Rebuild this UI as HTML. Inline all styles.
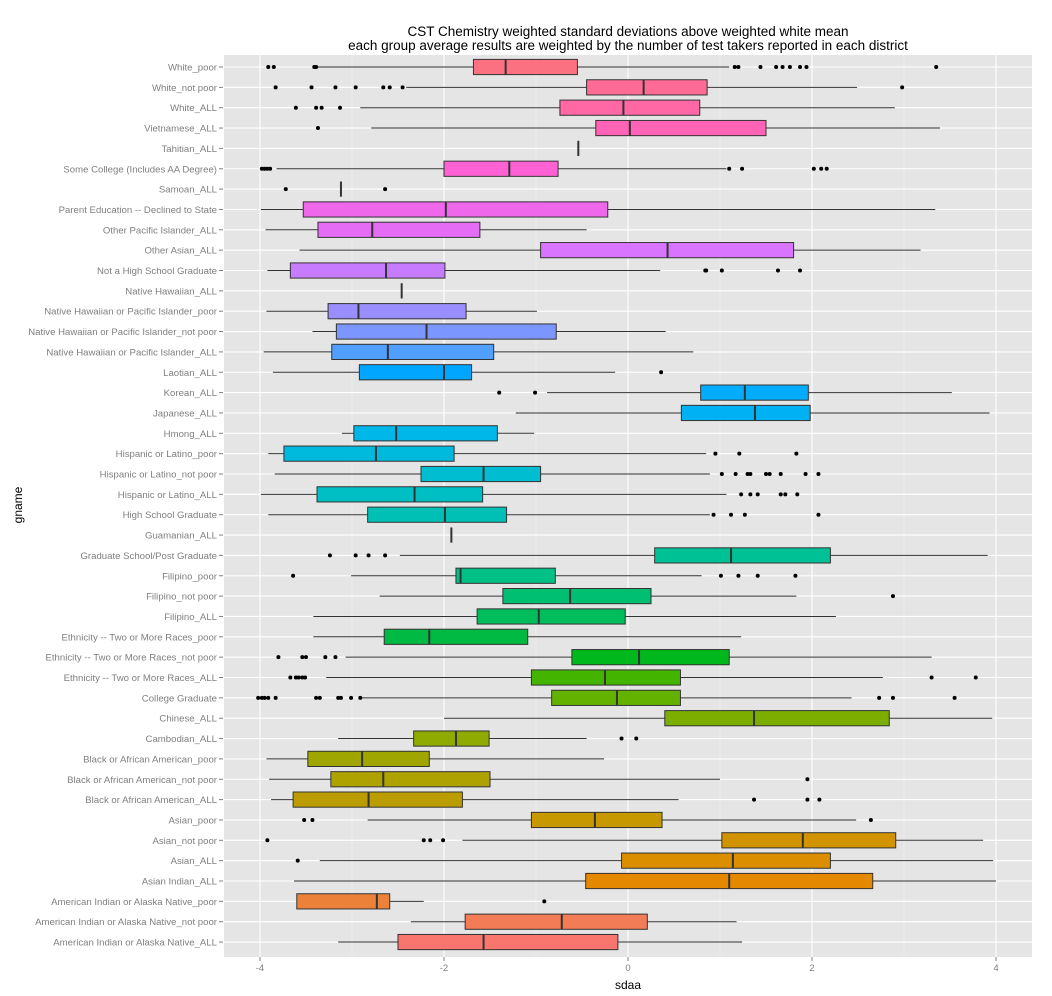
<!DOCTYPE html>
<html><head><meta charset="utf-8"><style>
html,body{margin:0;padding:0;background:#fff;}
svg{display:block;font-family:"Liberation Sans",sans-serif;}
</style></head><body>
<svg id="chart" width="1052" height="996" viewBox="0 0 1052 996" xmlns="http://www.w3.org/2000/svg">
<text x="628" y="36" text-anchor="middle" font-size="13.5" fill="#000">CST Chemistry weighted standard deviations above weighted white mean</text>
<text x="628" y="50" text-anchor="middle" font-size="13.5" fill="#000">each group average results are weighted by the number of test takers reported in each district</text>
<rect x="224" y="55" width="808" height="902" fill="#e5e5e5"/>
<g id="grid"></g><g id="marks"></g><g id="axes"></g>
<text x="628" y="989" text-anchor="middle" font-size="12" fill="#000">sdaa</text>
<text transform="translate(22,505) rotate(-90)" text-anchor="middle" font-size="12" fill="#000">gname</text>
</svg>
<script>
const categories = ["White_poor","White_not poor","White_ALL","Vietnamese_ALL","Tahitian_ALL","Some College (Includes AA Degree)","Samoan_ALL","Parent Education -- Declined to State","Other Pacific Islander_ALL","Other Asian_ALL","Not a High School Graduate","Native Hawaiian_ALL","Native Hawaiian or Pacific Islander_poor","Native Hawaiian or Pacific Islander_not poor","Native Hawaiian or Pacific Islander_ALL","Laotian_ALL","Korean_ALL","Japanese_ALL","Hmong_ALL","Hispanic or Latino_poor","Hispanic or Latino_not poor","Hispanic or Latino_ALL","High School Graduate","Guamanian_ALL","Graduate School/Post Graduate","Filipino_poor","Filipino_not poor","Filipino_ALL","Ethnicity -- Two or More Races_poor","Ethnicity -- Two or More Races_not poor","Ethnicity -- Two or More Races_ALL","College Graduate","Chinese_ALL","Cambodian_ALL","Black or African American_poor","Black or African American_not poor","Black or African American_ALL","Asian_poor","Asian_not poor","Asian_ALL","Asian Indian_ALL","American Indian or Alaska Native_poor","American Indian or Alaska Native_not poor","American Indian or Alaska Native_ALL"];
const whiskerLow = [-3.39,-2.41,-2.91,-2.79,-0.54,-3.82,-3.12,-3.99,-3.94,-3.57,-3.92,-2.46,-3.93,-3.43,-3.96,-3.86,-0.88,-1.22,-3.11,-3.91,-3.84,-3.99,-3.91,-1.92,-2.48,-3.01,-2.70,-3.42,-3.42,-3.07,-3.28,-2.89,-2.00,-3.15,-3.93,-3.90,-3.88,-2.83,-1.80,-3.35,-3.63,-3.60,-2.36,-3.15];
const q1 = [-1.68,-0.45,-0.74,-0.35,-0.54,-2.00,-3.12,-3.53,-3.37,-0.95,-3.67,-2.46,-3.26,-3.17,-3.22,-2.92,0.79,0.58,-2.98,-3.74,-2.25,-3.38,-2.83,-1.92,0.29,-1.87,-1.36,-1.64,-2.65,-0.61,-1.05,-0.83,0.40,-2.33,-3.48,-3.23,-3.64,-1.05,1.02,-0.07,-0.46,-3.60,-1.77,-2.50];
const median = [-1.33,0.17,-0.05,0.02,-0.54,-1.29,-3.12,-1.98,-2.78,0.43,-2.63,-2.46,-2.93,-2.19,-2.61,-2.00,1.27,1.38,-2.52,-2.74,-1.57,-2.32,-1.99,-1.92,1.12,-1.82,-0.63,-0.97,-2.16,0.12,-0.25,-0.12,1.37,-1.87,-2.89,-2.66,-2.82,-0.36,1.90,1.14,1.10,-2.73,-0.72,-1.57];
const q3 = [-0.55,0.86,0.78,1.50,-0.54,-0.76,-3.12,-0.22,-1.61,1.80,-1.99,-2.46,-1.76,-0.78,-1.46,-1.70,1.96,1.98,-1.42,-1.89,-0.95,-1.58,-1.32,-1.92,2.20,-0.79,0.25,-0.03,-1.09,1.10,0.57,0.57,2.84,-1.51,-2.16,-1.50,-1.80,0.37,2.91,2.20,2.66,-2.59,0.21,-0.11];
const whiskerHigh = [1.10,2.49,2.90,3.39,-0.54,1.07,-3.12,3.34,-0.45,3.18,0.35,-2.46,-0.99,0.41,0.71,-0.14,3.52,3.93,-1.02,0.85,0.89,1.07,0.89,-1.92,3.91,0.80,1.83,2.26,1.23,3.30,2.77,2.43,3.96,-0.45,-0.26,1.00,0.55,2.48,3.86,3.97,4.00,-2.22,1.18,1.24];
const outliers = [
[-3.91,-3.85,-3.41,-3.39,1.16,1.20,1.44,1.61,1.68,1.76,1.87,1.94,3.35],
[-3.83,-3.44,-3.18,-2.96,-2.66,-2.59,-2.45,2.98],
[-3.61,-3.39,-3.33,-3.13],
[-3.37],
[],
[-3.98,-3.95,-3.92,-3.89,1.10,1.24,2.02,2.10,2.16],
[-3.72,-2.64],
[],[],[],
[0.84,0.85,1.02,1.63,1.87],
[],[],[],[],
[0.36],
[-1.40,-1.01],
[],[],
[0.95,1.21,1.83],
[1.02,1.17,1.30,1.33,1.50,1.54,1.66,1.93,2.07],
[1.23,1.33,1.41,1.66,1.71,1.84],
[0.93,1.12,1.27,2.07],
[],
[-3.24,-2.96,-2.82,-2.64],
[-3.64,1.01,1.20,1.41,1.82],
[2.88],
[],[],
[-3.80,-3.54,-3.50,-3.29,-3.18],
[-3.67,-3.61,-3.58,-3.54,-3.51,3.30,3.78],
[-4.02,-3.98,-3.95,-3.91,-3.83,-3.39,-3.35,-3.15,-3.12,-3.01,-2.91,2.73,2.88,3.55],
[],
[-0.07,0.09],
[],
[1.95],
[1.37,1.95,2.08],
[-3.52,-3.43,2.64],
[-3.92,-2.22,-2.15,-2.01],
[-3.59],
[],
[-0.91],
[],[]
];
const xTicks = [-4,-2,0,2,4];
const xTickLabels = ["-4","-2","0","2","4"];
const xMinor = [-3,-1,1,3];

const NS="http://www.w3.org/2000/svg";
function x(v){return 628+92*v;}
function y(i){return 67+20.35*i;}
function mk(tag,attrs,parent){const e=document.createElementNS(NS,tag);for(const k in attrs)e.setAttribute(k,attrs[k]);parent.appendChild(e);return e;}
function hcl2hex(h,c,l){
  const hr=h*Math.PI/180;const L=l,U=c*Math.cos(hr),V=c*Math.sin(hr);
  const Xn=95.047,Yn=100,Zn=108.883;const un=4*Xn/(Xn+15*Yn+3*Zn),vn=9*Yn/(Xn+15*Yn+3*Zn);
  const Y=L>8?Yn*Math.pow((L+16)/116,3):Yn*L/903.3;
  const u=U/(13*L)+un,v=V/(13*L)+vn;
  const X=9*Y*u/(4*v),Z=(12-3*u-20*v)*Y/(4*v);
  let r=(3.240479*X-1.53715*Y-0.498535*Z)/100,g=(-0.969256*X+1.875992*Y+0.041556*Z)/100,b=(0.055648*X-0.204043*Y+1.057311*Z)/100;
  const gm=t=>{t=t>0.0031308?1.055*Math.pow(t,1/2.4)-0.055:12.92*t;return Math.round(Math.max(0,Math.min(1,t))*255);};
  return "#"+[gm(r),gm(g),gm(b)].map(n=>n.toString(16).padStart(2,"0")).join("");
}
const grid=document.getElementById('grid'),marks=document.getElementById('marks'),axes=document.getElementById('axes');
xMinor.forEach(v=>{const l=mk('line',{x1:x(v),x2:x(v),y1:55,y2:957,stroke:'#f2f2f2','stroke-width':0.6},grid);
});
xTicks.forEach(v=>{const l=mk('line',{x1:x(v),x2:x(v),y1:55,y2:957,stroke:'#fff','stroke-width':1.1},grid);
});
const n=categories.length;
categories.forEach((c,i)=>{const l=mk('line',{x1:224,x2:1032,y1:y(i),y2:y(i),stroke:'#fff','stroke-width':1.1},grid);
});
categories.forEach((c,i)=>{
  const yc=y(i),h=15.2;const lvl=n-1-i;
  const col=hcl2hex(15+360*lvl/n,100,65);
  const g=mk('g',{},marks);
  
  
  const w1=mk('line',{x1:x(whiskerLow[i]),x2:x(q1[i]),y1:yc,y2:yc,stroke:'#333','stroke-width':1},g);
  
  const w2=mk('line',{x1:x(q3[i]),x2:x(whiskerHigh[i]),y1:yc,y2:yc,stroke:'#333','stroke-width':1},g);
  
  const r=mk('rect',{x:x(q1[i]),y:yc-h/2,width:Math.max(0,x(q3[i])-x(q1[i])),height:h,fill:col,stroke:'#333','stroke-width':1},g);
  
  const m=mk('line',{x1:x(median[i]),x2:x(median[i]),y1:yc-h/2,y2:yc+h/2,stroke:'#333','stroke-width':2},g);
  
  outliers[i].forEach(v=>{const p=mk('circle',{cx:x(v),cy:yc,r:2,fill:'#000'},g);
    });
  const t=mk('text',{x:217,y:yc+3.5,'text-anchor':'end','font-size':9.6,fill:'#7f7f7f'},axes);
  t.textContent=c;
  const tk=mk('line',{x1:219,x2:223,y1:yc,y2:yc,stroke:'#7f7f7f','stroke-width':1},axes);
  
});
xTicks.forEach((v,k)=>{
  const tk=mk('line',{x1:x(v),x2:x(v),y1:957,y2:961,stroke:'#7f7f7f','stroke-width':1},axes);
  
  const t=mk('text',{x:x(v),y:971,'text-anchor':'middle','font-size':9.6,fill:'#7f7f7f'},axes);
  t.textContent=xTickLabels[k];
});
</script>
</body></html>
